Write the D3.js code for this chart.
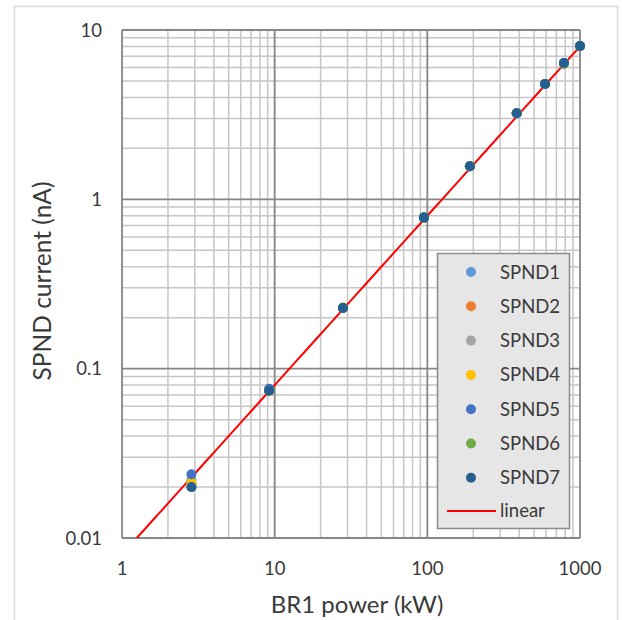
<html>
<head>
<meta charset="utf-8">
<title>SPND current vs BR1 power</title>
<script src="https://d3js.org/d3.v7.min.js"></script>
<style>
  body { margin: 0; background: #fff; }
  text { font-family: Lato, "Noto Sans", sans-serif; fill: #3a3a3a; }
</style>
</head>
<body>
<script>
// data
var power = [2.85, 9.2, 28, 95, 190, 385, 590, 785, 1000]
var seriesNames = ["SPND1", "SPND2", "SPND3", "SPND4", "SPND5", "SPND6", "SPND7"]
var seriesColors = ["#5B9BD5", "#ED7D31", "#A5A5A5", "#FFC000", "#4472C4", "#70AD47", "#255E91"]
var spnd1 = [0.022, 0.074, 0.228, 0.78, 1.57, 3.22, 4.8, 6.38, 8.05]
var spnd2 = [0.021, 0.074, 0.228, 0.78, 1.57, 3.22, 4.8, 6.38, 8.05]
var spnd3 = [0.020, 0.074, 0.228, 0.78, 1.57, 3.22, 4.8, 6.38, 8.05]
var spnd4 = [0.0213, 0.074, 0.228, 0.78, 1.57, 3.22, 4.8, 6.38, 8.05]
var spnd5 = [0.0238, 0.076, 0.228, 0.78, 1.57, 3.22, 4.8, 6.38, 8.05]
var spnd6 = [0.020, 0.074, 0.23, 0.78, 1.57, 3.22, 4.8, 6.30, 8.05]
var spnd7 = [0.020, 0.074, 0.228, 0.78, 1.57, 3.22, 4.8, 6.38, 8.05]
var linearSlope = 0.008
var xTicks = [1, 10, 100, 1000]
var yTicks = [0.01, 0.1, 1, 10]

var allSeries = [spnd1, spnd2, spnd3, spnd4, spnd5, spnd6, spnd7]

var W = 622, H = 620
var pL = 122, pR = 580, pT = 30, pB = 538

var svg = d3.select("body").append("svg")
  .attr("width", W)
  .attr("height", H)

// outer chart border
svg.append("rect")
  .attr("x", 14.5).attr("y", 6.5)
  .attr("width", 603).attr("height", 620)
  .attr("fill", "#fff")
  .attr("stroke", "#d9d9d9")
  .attr("stroke-width", 1.5)

var x = d3.scaleLog().domain([1, 1000]).range([pL, pR])
var y = d3.scaleLog().domain([0.01, 10]).range([pB, pT])

// minor grid lines
var minorX = [], minorY = []
for (var d = 1; d < 1000; d *= 10)
  for (var k = 2; k <= 9; k++) minorX.push(d * k)
for (var d = 0.01; d < 9; d *= 10)
  for (var k = 2; k <= 9; k++) minorY.push(d * k)

var grid = svg.append("g")
grid.selectAll(".mx").data(minorX).enter().append("line")
  .attr("x1", d => x(d)).attr("x2", d => x(d))
  .attr("y1", pT).attr("y2", pB)
  .attr("stroke", "#c6c6c6").attr("stroke-width", 1.5)
grid.selectAll(".my").data(minorY).enter().append("line")
  .attr("y1", d => y(d)).attr("y2", d => y(d))
  .attr("x1", pL).attr("x2", pR)
  .attr("stroke", "#c6c6c6").attr("stroke-width", 1.5)
grid.selectAll(".Mx").data(xTicks).enter().append("line")
  .attr("x1", d => x(d)).attr("x2", d => x(d))
  .attr("y1", pT).attr("y2", pB)
  .attr("stroke", "#868686").attr("stroke-width", 1.8)
grid.selectAll(".My").data(yTicks).enter().append("line")
  .attr("y1", d => y(d)).attr("y2", d => y(d))
  .attr("x1", pL).attr("x2", pR)
  .attr("stroke", "#868686").attr("stroke-width", 1.8)

// tick labels
svg.selectAll(".xt").data(xTicks).enter().append("text")
  .attr("x", d => x(d)).attr("y", 575)
  .attr("text-anchor", "middle")
  .attr("font-size", 18.5)
  .text(d => d)
svg.selectAll(".yt").data(yTicks).enter().append("text")
  .attr("x", 102).attr("y", d => y(d) + 6.5)
  .attr("text-anchor", "end")
  .attr("font-size", 18.5)
  .text(d => d)

// axis titles
svg.append("text")
  .attr("x", 357).attr("y", 613)
  .attr("text-anchor", "middle")
  .attr("font-size", 24)
  .text("BR1 power (kW)")
svg.append("text")
  .attr("transform", "translate(51,281) rotate(-90)")
  .attr("text-anchor", "middle")
  .attr("font-size", 24.5)
  .text("SPND current (nA)")

// clip for line
svg.append("clipPath").attr("id", "plotclip")
  .append("rect").attr("x", pL).attr("y", pT)
  .attr("width", pR - pL).attr("height", pB - pT)

var linePts = d3.range(0, 3.01, 0.05).map(e => Math.pow(10, e))
svg.append("path")
  .datum(linePts)
  .attr("clip-path", "url(#plotclip)")
  .attr("fill", "none")
  .attr("stroke", "#ff0000")
  .attr("stroke-width", 2)
  .attr("d", d3.line().x(d => x(d)).y(d => y(d * linearSlope)))

// points
allSeries.forEach(function(vals, i) {
  svg.append("g").selectAll("circle")
    .data(vals).enter().append("circle")
    .attr("cx", (d, j) => x(power[j]))
    .attr("cy", d => y(d))
    .attr("r", 5)
    .attr("fill", seriesColors[i])
})

// legend
var lg = svg.append("g")
lg.append("rect")
  .attr("x", 437.5).attr("y", 253.5)
  .attr("width", 132).attr("height", 275)
  .attr("fill", "#e6e6e6")
  .attr("stroke", "#8a8a8a")
  .attr("stroke-width", 1.5)
seriesNames.forEach(function(n, i) {
  var yy = 272 + i * 34.3
  lg.append("circle").attr("cx", 471).attr("cy", yy).attr("r", 5).attr("fill", seriesColors[i])
  lg.append("text").attr("x", 500).attr("y", yy + 6.5).attr("font-size", 18.5).text(n)
})
lg.append("line")
  .attr("x1", 447).attr("x2", 496)
  .attr("y1", 511).attr("y2", 511)
  .attr("stroke", "#ff0000").attr("stroke-width", 2)
lg.append("text").attr("x", 500).attr("y", 517).attr("font-size", 18.5).text("linear")
</script>
</body>
</html>
